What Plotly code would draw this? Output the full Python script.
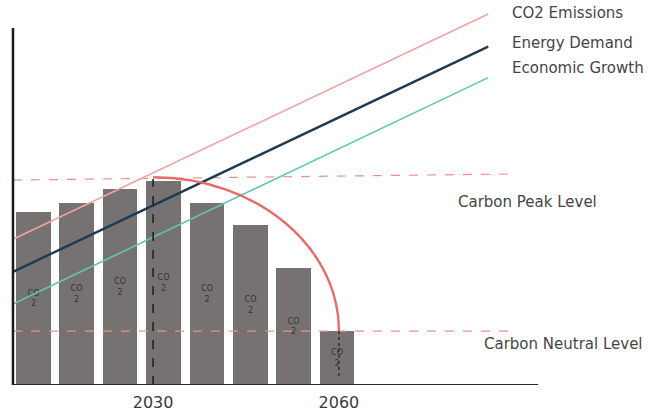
import plotly.graph_objects as go

# ---- data ----
bar_positions = [0, 1, 2, 3, 4, 5, 6, 7]
bar_values = [48.5, 51.0, 54.8, 57.2, 51.0, 44.8, 32.7, 15.1]
bar_labels = ["CO<br>2"] * 8

tick_positions = [2.76, 7.04]
tick_labels = ["2030", "2060"]

line_x = [-0.468, 10.48]
co2_emissions = [40.8, 103.9]
energy_demand = [31.7, 94.8]
economic_growth = [22.7, 86.1]
series_names = ["CO2 Emissions", "Energy Demand", "Economic Growth"]
series_label_y = [104.1, 95.8, 88.8]

peak_level = [57.4, 59.1]      # dashed peak line (left, right)
neutral_level = 15.1
peak_top = 58.2
level_line_x = [-0.468, 10.94]

X_MIN, X_MAX = -0.767, 14.23
Y_MIN, Y_MAX = 0, 107.84
AXIS_X_END = 11.63
AXIS_Y_END = 100

FONT = "DejaVu Sans"
TEXT_COLOR = "#454545"

fig = go.Figure()

fig.add_trace(go.Bar(
    x=bar_positions, y=bar_values, width=0.795,
    marker=dict(color="#777272", line=dict(width=0)),
    text=bar_labels, textposition="inside", insidetextanchor="middle",
    textangle=0, textfont=dict(size=8, color="#333333", family=FONT),
    showlegend=False, hoverinfo="skip",
))

# level dashed lines
fig.add_trace(go.Scatter(x=level_line_x, y=peak_level, mode="lines",
                         line=dict(color="#ec8f8f", width=1.2, dash="dash"),
                         showlegend=False, hoverinfo="skip"))
fig.add_trace(go.Scatter(x=level_line_x, y=[neutral_level, neutral_level], mode="lines",
                         line=dict(color="#ec8f8f", width=1.2, dash="dash"),
                         showlegend=False, hoverinfo="skip"))

# trend lines
for vals, col, w in [(co2_emissions, "#f2a3a3", 1.6),
                     (energy_demand, "#1d3a52", 2.4),
                     (economic_growth, "#5fc9a2", 1.6)]:
    fig.add_trace(go.Scatter(x=line_x, y=vals, mode="lines",
                             line=dict(color=col, width=w),
                             showlegend=False, hoverinfo="skip"))

# vertical markers
fig.add_trace(go.Scatter(x=[tick_positions[0]] * 2, y=[0, peak_level[0] + 0.3], mode="lines",
                         line=dict(color="#222222", width=1.6, dash="dash"),
                         showlegend=False, hoverinfo="skip"))
fig.add_trace(go.Scatter(x=[tick_positions[1]] * 2, y=[2.5, neutral_level], mode="lines",
                         line=dict(color="#333333", width=1.6, dash="dot"),
                         showlegend=False, hoverinfo="skip"))

# quarter-ellipse arc from peak to neutral
cx, cy = tick_positions[0], neutral_level
rx, ry = tick_positions[1] - tick_positions[0], peak_top - neutral_level
k = 0.5523
arc_path = (f"M {cx},{cy + ry} C {cx + k * rx},{cy + ry} "
            f"{cx + rx},{cy + k * ry} {cx + rx},{cy}")

shapes = [
    dict(type="path", path=arc_path, xref="x", yref="y",
         line=dict(color="#e86a6a", width=2.4)),
    dict(type="line", xref="x", yref="y", x0=line_x[0], x1=line_x[0], y0=0, y1=AXIS_Y_END,
         line=dict(color="#1a1a1a", width=2.5)),
    dict(type="line", xref="x", yref="y", x0=line_x[0], x1=AXIS_X_END, y0=0, y1=0,
         line=dict(color="#2a2a2a", width=2)),
]

annotations = []
for name, yv in zip(series_names, series_label_y):
    annotations.append(dict(x=10.98, y=yv, text=name, showarrow=False, xanchor="left",
                            yanchor="middle", font=dict(family=FONT, size=15, color=TEXT_COLOR)))
annotations.append(dict(x=9.74, y=51.4, text="Carbon Peak Level", showarrow=False,
                        xanchor="left", yanchor="middle",
                        font=dict(family=FONT, size=15, color=TEXT_COLOR)))
annotations.append(dict(x=10.34, y=11.5, text="Carbon Neutral Level", showarrow=False,
                        xanchor="left", yanchor="middle",
                        font=dict(family=FONT, size=15, color=TEXT_COLOR)))

fig.update_layout(
    width=651, height=415,
    margin=dict(l=0, r=0, t=0, b=30),
    paper_bgcolor="white", plot_bgcolor="white",
    bargap=0,
    shapes=shapes, annotations=annotations,
    xaxis=dict(range=[X_MIN, X_MAX], showgrid=False, zeroline=False, showline=False,
               tickvals=tick_positions, ticktext=tick_labels, ticks="",
               ticklabelstandoff=6,
               tickfont=dict(family=FONT, size=16, color="#3a3a3a"), fixedrange=True),
    yaxis=dict(range=[Y_MIN, Y_MAX], visible=False, fixedrange=True),
    showlegend=False,
)

fig.write_html("out.html")
